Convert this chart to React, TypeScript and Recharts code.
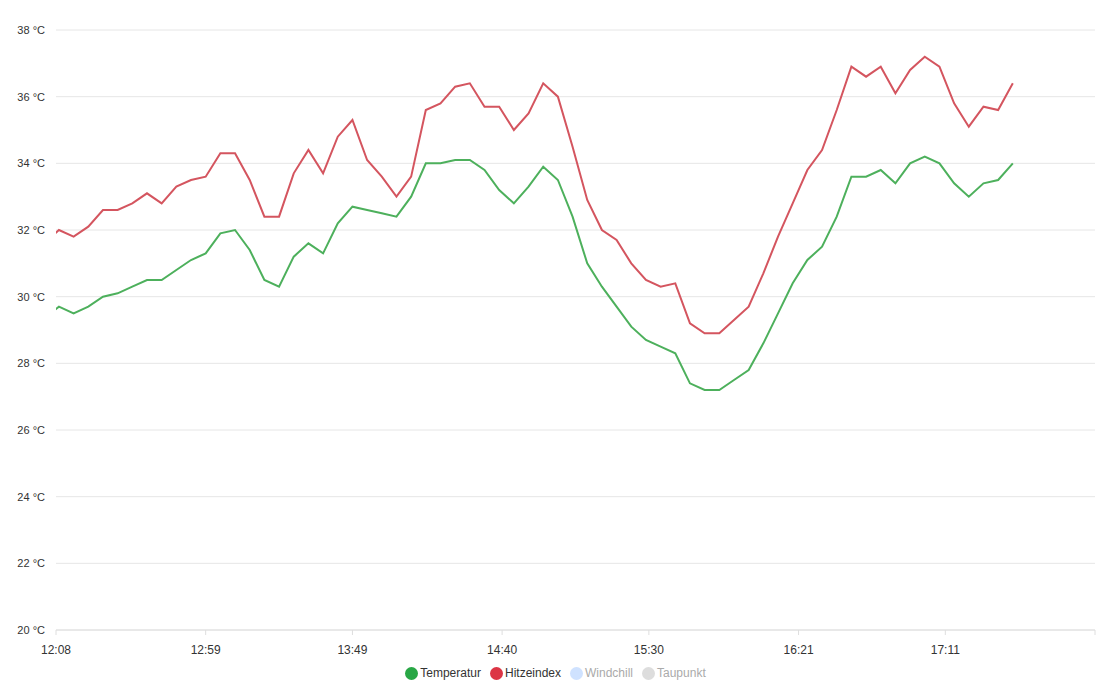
import { LineChart, Line, XAxis, YAxis, CartesianGrid, Legend } from "recharts";

const times = [
  "12:04", "12:09", "12:14", "12:19", "12:24", "12:29", "12:34", "12:39", "12:44", "12:49", "12:54", "12:59",
  "13:04", "13:09", "13:14", "13:19", "13:24", "13:29", "13:34", "13:39", "13:44", "13:49", "13:54", "13:59",
  "14:04", "14:09", "14:14", "14:19", "14:24", "14:29", "14:34", "14:39", "14:44", "14:49", "14:54", "14:59",
  "15:04", "15:09", "15:14", "15:19", "15:24", "15:29", "15:34", "15:39", "15:44", "15:49", "15:54", "15:59",
  "16:04", "16:09", "16:14", "16:19", "16:24", "16:29", "16:34", "16:39", "16:44", "16:49", "16:54", "16:59",
  "17:04", "17:09", "17:14", "17:19", "17:24", "17:29", "17:34",
];

const temperatur = [
  29.35, 29.7, 29.5, 29.7, 30.0, 30.1, 30.3, 30.5, 30.5, 30.8, 31.1, 31.3,
  31.9, 32.0, 31.4, 30.5, 30.3, 31.2, 31.6, 31.3, 32.2, 32.7, 32.6, 32.5,
  32.4, 33.0, 34.0, 34.0, 34.1, 34.1, 33.8, 33.2, 32.8, 33.3, 33.9, 33.5,
  32.4, 31.0, 30.3, 29.7, 29.1, 28.7, 28.5, 28.3, 27.4, 27.2, 27.2, 27.5,
  27.8, 28.6, 29.5, 30.4, 31.1, 31.5, 32.4, 33.6, 33.6, 33.8, 33.4, 34.0,
  34.2, 34.0, 33.4, 33.0, 33.4, 33.5, 34.0,
];

const hitzeindex = [
  31.6, 32.0, 31.8, 32.1, 32.6, 32.6, 32.8, 33.1, 32.8, 33.3, 33.5, 33.6,
  34.3, 34.3, 33.5, 32.4, 32.4, 33.7, 34.4, 33.7, 34.8, 35.3, 34.1, 33.6,
  33.0, 33.6, 35.6, 35.8, 36.3, 36.4, 35.7, 35.7, 35.0, 35.5, 36.4, 36.0,
  34.5, 32.9, 32.0, 31.7, 31.0, 30.5, 30.3, 30.4, 29.2, 28.9, 28.9, 29.3,
  29.7, 30.7, 31.8, 32.8, 33.8, 34.4, 35.6, 36.9, 36.6, 36.9, 36.1, 36.8,
  37.2, 36.9, 35.8, 35.1, 35.7, 35.6, 36.4,
];

const yTicks = [20, 22, 24, 26, 28, 30, 32, 34, 36, 38];
const xTickLabels = ["12:08", "12:59", "13:49", "14:40", "15:30", "16:21", "17:11"];
const xAxisEnd = "18:02";

const legendNames = ["Temperatur", "Hitzeindex", "Windchill", "Taupunkt"];
const legendColors = ["#28a745", "#dc3545", "#cfe2ff", "#dddddd"];
const legendActive = [true, true, false, false];

const toMin = (s: string) => {
  const [h, m] = s.split(":").map(Number);
  return h * 60 + m;
};

const data = times.map((t, i) => ({
  t: toMin(t),
  temperatur: temperatur[i],
  hitzeindex: hitzeindex[i],
}));

const xTicks = [...xTickLabels, xAxisEnd].map(toMin);

// last tick only marks the axis end, no label there
const fmtTime = (v: number) => {
  if (v === toMin(xAxisEnd)) return "";
  const h = Math.floor(v / 60);
  const m = v % 60;
  return `${h}:${String(m).padStart(2, "0")}`;
};

const renderLegend = () => (
  <div
    style={{
      display: "flex",
      justifyContent: "center",
      alignItems: "center",
      height: 22,
      fontSize: 12,
      gap: 9,
    }}
  >
    {legendNames.map((name, i) => (
      <span
        key={name}
        style={{
          display: "flex",
          alignItems: "center",
          color: legendActive[i] ? "#333" : "#aaa",
        }}
      >
        <span
          style={{
            width: 13,
            height: 13,
            borderRadius: "50%",
            background: legendColors[i],
            marginRight: 2,
          }}
        />
        {name}
      </span>
    ))}
  </div>
);

export default function App() {
  return (
    <LineChart
      width={1097}
      height={678}
      data={data}
      margin={{ top: 22, right: 10, bottom: 0, left: 8 }}
      style={{ fontFamily: "'Liberation Sans', Arial, sans-serif" }}
    >
      <CartesianGrid vertical={false} stroke="#e6e6e6" />
      <XAxis
        dataKey="t"
        type="number"
        domain={[toMin(xTickLabels[0]), toMin(xAxisEnd)]}
        ticks={xTicks}
        allowDataOverflow
        tickFormatter={fmtTime}
        height={34}
        tickSize={5}
        tickMargin={10}
        axisLine={{ stroke: "#dedede" }}
        tickLine={{ stroke: "#dedede" }}
        tick={{ fill: "#333", fontSize: 12 }}
      />
      <YAxis
        domain={[20, 38]}
        ticks={yTicks}
        width={40}
        tickSize={6}
        tickMargin={5}
        axisLine={false}
        tickLine={false}
        tickFormatter={(v) => `${v} °C`}
        tick={{ fill: "#333", fontSize: 11 }}
      />
      <Legend verticalAlign="bottom" content={renderLegend} wrapperStyle={{ bottom: 2 }} />
      <Line
        type="linear"
        dataKey="temperatur"
        name="Temperatur"
        stroke="#4db05c"
        strokeWidth={2}
        dot={false}
        isAnimationActive={false}
      />
      <Line
        type="linear"
        dataKey="hitzeindex"
        name="Hitzeindex"
        stroke="#d4555f"
        strokeWidth={2}
        dot={false}
        isAnimationActive={false}
      />
    </LineChart>
  );
}
